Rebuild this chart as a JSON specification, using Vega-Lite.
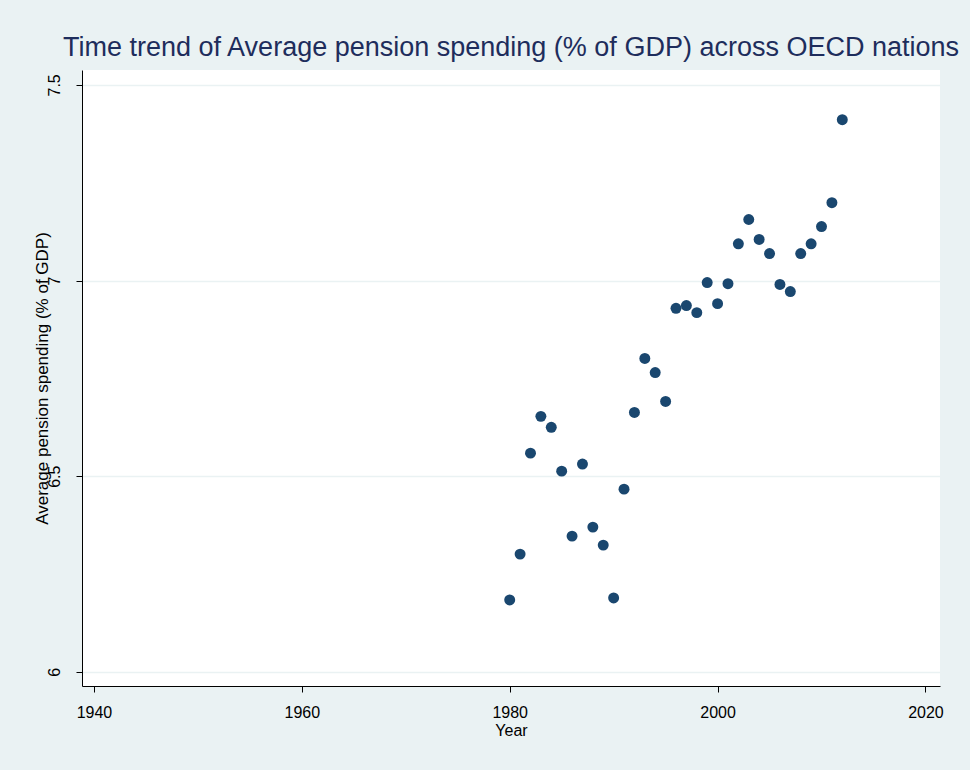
{
  "$schema": "https://vega.github.io/schema/vega-lite/v6.json",
  "width": 858,
  "height": 616,
  "autosize": {"type": "none"},
  "padding": {"left": 82, "top": 70, "right": 30, "bottom": 84},
  "background": "#eaf2f3",
  "title": {
    "text": "Time trend of Average pension spending (% of GDP) across OECD nations",
    "font": "Liberation Sans",
    "fontSize": 27,
    "fontWeight": "normal",
    "color": "#1e2d5c",
    "anchor": "middle",
    "offset": 8
  },
  "config": {
    "view": {"fill": "white", "stroke": null},
    "font": "Liberation Sans"
  },
  "data": {
    "values": [
      {"year": 1980, "value": 6.184},
      {"year": 1981, "value": 6.301},
      {"year": 1982, "value": 6.559},
      {"year": 1983, "value": 6.653},
      {"year": 1984, "value": 6.625},
      {"year": 1985, "value": 6.513},
      {"year": 1986, "value": 6.347},
      {"year": 1987, "value": 6.531},
      {"year": 1988, "value": 6.370},
      {"year": 1989, "value": 6.324},
      {"year": 1990, "value": 6.189},
      {"year": 1991, "value": 6.467},
      {"year": 1992, "value": 6.663},
      {"year": 1993, "value": 6.801},
      {"year": 1994, "value": 6.765},
      {"year": 1995, "value": 6.691},
      {"year": 1996, "value": 6.929},
      {"year": 1997, "value": 6.936},
      {"year": 1998, "value": 6.918},
      {"year": 1999, "value": 6.995},
      {"year": 2000, "value": 6.941},
      {"year": 2001, "value": 6.992},
      {"year": 2002, "value": 7.094},
      {"year": 2003, "value": 7.156},
      {"year": 2004, "value": 7.105},
      {"year": 2005, "value": 7.069},
      {"year": 2006, "value": 6.990},
      {"year": 2007, "value": 6.972},
      {"year": 2008, "value": 7.069},
      {"year": 2009, "value": 7.094},
      {"year": 2010, "value": 7.138},
      {"year": 2011, "value": 7.199},
      {"year": 2012, "value": 7.411}
    ]
  },
  "mark": {"type": "point", "filled": true, "shape": "circle", "size": 120, "color": "#1a476f", "opacity": 1},
  "encoding": {
    "x": {
      "field": "year",
      "type": "quantitative",
      "title": "Year",
      "scale": {"domain": [1938.85, 2021.4], "nice": false, "zero": false},
      "axis": {
        "values": [1940, 1960, 1980, 2000, 2020],
        "format": "d",
        "grid": false,
        "domainColor": "black",
        "domainWidth": 1,
        "tickColor": "black",
        "tickSize": 6,
        "labelFontSize": 16,
        "labelColor": "black",
        "labelPadding": 12,
        "labelFlush": false,
        "titleFontSize": 16,
        "titleFontWeight": "normal",
        "titleColor": "black",
        "titlePadding": 2
      }
    },
    "y": {
      "field": "value",
      "type": "quantitative",
      "title": "Average pension spending (% of GDP)",
      "scale": {"domain": [5.964, 7.538], "nice": false, "zero": false},
      "axis": {
        "values": [6, 6.5, 7, 7.5],
        "format": "~g",
        "grid": true,
        "gridColor": "#eaf2f3",
        "gridWidth": 1.5,
        "domainColor": "black",
        "domainWidth": 1,
        "tickColor": "black",
        "tickSize": 6,
        "labelFontSize": 16,
        "labelColor": "black",
        "labelAngle": -90,
        "labelAlign": "center",
        "labelBaseline": "bottom",
        "labelPadding": 14,
        "labelFlush": false,
        "titleFontSize": 17,
        "titleFontWeight": "normal",
        "titleColor": "black",
        "titleAngle": -90,
        "titleX": -40,
        "titleY": 308,
        "titleAlign": "center",
        "titleBaseline": "middle"
      }
    }
  }
}
